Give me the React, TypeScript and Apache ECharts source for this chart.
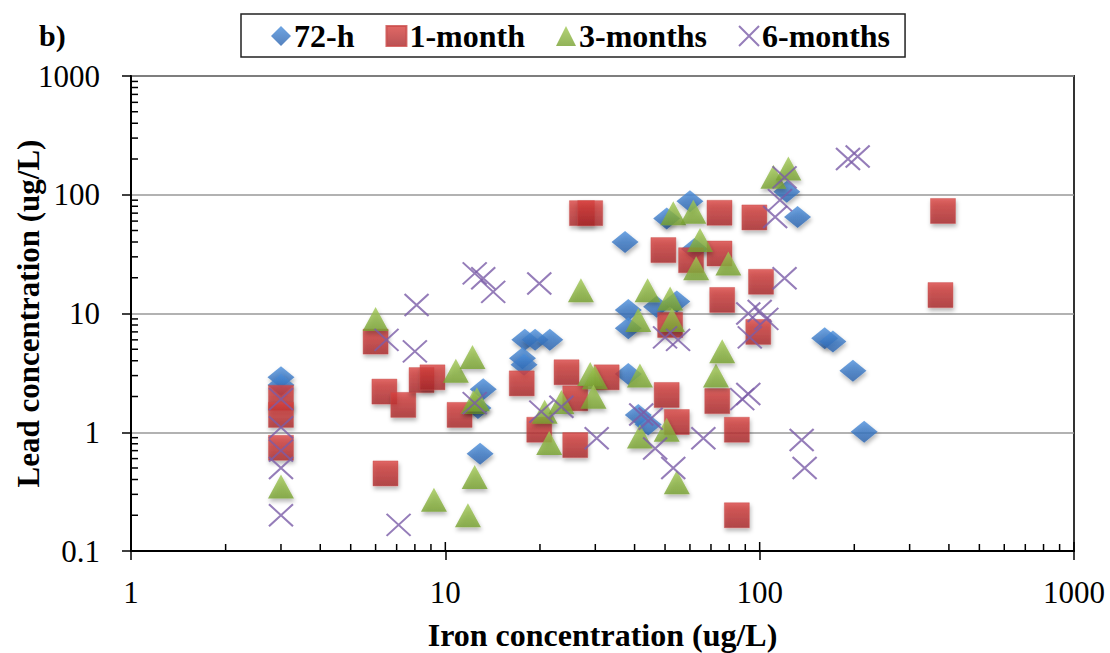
import React, { useEffect, useRef } from "react";
import * as echarts from "echarts";

const FONT = '"Liberation Serif", "Times New Roman", serif';

const seriesNames = ["72-h", "1-month", "3-months", "6-months"];

const ironH72 = [3, 3, 12.9, 13.2, 12.7, 17.9, 19.3, 21.5, 17.6, 17.8, 37.3, 38.2, 38.2, 38.2, 41.1, 44.2, 47, 54.5, 50.6, 60, 62, 122, 132, 161, 171, 198, 215];
const leadH72 = [2.9, 2.5, 0.66, 2.3, 1.6, 6, 6, 6, 4.2, 3.7, 40, 10.7, 7.5, 3.1, 1.4, 1.16, 11.4, 12.6, 63, 88, 35, 106, 65, 6.2, 5.8, 3.3, 1.01];

const iron1m = [3, 3, 3, 6, 6.4, 7.35, 8.4, 9.1, 6.45, 11.1, 17.5, 19.9, 24.3, 25.9, 25.9, 27.2, 28.9, 32.6, 49.4, 51.9, 50.6, 54.5, 60.5, 74.5, 74.5, 76, 73.3, 84.6, 84.6, 96.2, 101, 99, 383, 376];
const lead1m = [1.95, 1.4, 0.74, 5.8, 2.2, 1.7, 2.75, 2.9, 0.45, 1.4, 2.58, 1.05, 3.2, 1.93, 0.78, 70, 70, 2.9, 34.2, 8.0, 2.06, 1.22, 28.1, 70.5, 32, 13, 1.83, 1.05, 0.2, 64.4, 18.5, 7.0, 73, 14.3];

const iron3m = [3, 6, 9.2, 11.8, 12.4, 10.8, 12.2, 12.3, 12.6, 21.4, 20.7, 23.4, 27, 28.9, 29.9, 29.6, 41.1, 41.6, 41.6, 44, 51.9, 52.6, 50.6, 54.5, 53.1, 61.5, 64.6, 62.8, 79.5, 72.6, 76, 110.6, 123.4];
const lead3m = [0.35, 9, 0.27, 0.2, 0.42, 3.3, 4.3, 1.8, 1.9, 0.81, 1.49, 1.8, 15.7, 3.1, 2.9, 1.99, 8.8, 3.0, 0.92, 15.7, 13.4, 8.8, 1.05, 0.38, 70, 72, 41.5, 24, 26.4, 3.0, 4.8, 141.6, 166];

const iron6m = [3, 3, 3, 3, 3, 6.5, 8.1, 8.0, 7.1, 12.4, 12.4, 13.2, 14.2, 19.9, 20.2, 23.4, 30.3, 42, 45, 46.5, 53.1, 50, 55, 66.2, 88, 92, 92, 100, 105, 93, 112, 116, 120, 120, 136, 139, 191, 205];
const lead6m = [1.9, 1.1, 0.7, 0.5, 0.2, 6, 11.8, 4.8, 0.166, 1.76, 21.8, 19.8, 15.2, 17.9, 1.49, 1.64, 0.89, 1.41, 1.3, 0.73, 0.5, 6.3, 6, 0.89, 1.9, 2.1, 10, 10.5, 9, 6.3, 65, 90, 140, 19.8, 0.86, 0.5, 200, 210];

// axis structure
const tickMantissas = [2, 3, 4, 5, 6, 7, 8, 9];
const xDecades = [1, 10, 100];
const yDecades = [0.1, 1, 10, 100];
const xMajors = [1, 10, 100, 1000];

const zip = (xs: number[], ys: number[]) => xs.map((x, i) => [x, ys[i]]);

const grad = (top: string, bottom: string) => ({
  type: "linear",
  x: 0,
  y: 0,
  x2: 0,
  y2: 1,
  colorStops: [
    { offset: 0, color: top },
    { offset: 1, color: bottom },
  ],
});

const shadow = {
  shadowBlur: 4,
  shadowColor: "rgba(0,0,0,0.35)",
  shadowOffsetX: 1,
  shadowOffsetY: 3,
};

const CROSS = "path://M0,0L10,10M10,0L0,10";

export default function App() {
  const ref = useRef<HTMLDivElement>(null);

  useEffect(() => {
    if (!ref.current) return;
    document.body.style.margin = "0";
    const chart = echarts.init(ref.current, undefined, { renderer: "svg" });

    const xMinor: number[][] = [];
    xDecades.forEach((d) => tickMantissas.forEach((m) => xMinor.push([m * d, 0.1])));
    const yMinor: number[][] = [];
    yDecades.forEach((d) => tickMantissas.forEach((m) => yMinor.push([1, +(m * d).toPrecision(3)])));
    const xMajorIn = xMajors.map((v) => [v, 0.1]);

    const tickStyle = { stroke: "#000", lineWidth: 1.5 };

    const option: any = {
      animation: false,
      backgroundColor: "#fff",
      title: {
        text: "b)",
        left: 34,
        top: 15,
        textStyle: { fontFamily: FONT, fontWeight: "bold", fontSize: 30, color: "#000" },
      },
      legend: {
        left: 241,
        top: 14,
        data: [
          { name: "72-h", icon: "diamond" },
          { name: "1-month", icon: "rect" },
          { name: "3-months", icon: "triangle" },
          { name: "6-months", icon: CROSS },
        ],
        itemWidth: 20,
        itemHeight: 20,
        itemGap: 31,
        padding: [6, 15, 5, 30],
        borderColor: "#222",
        borderWidth: 1.5,
        textStyle: { fontFamily: FONT, fontWeight: "bold", fontSize: 32, color: "#000", padding: [0, 0, 0, -2] },
      },
      grid: {
        left: 131,
        right: 36,
        top: 76,
        bottom: 102,
        show: true,
        borderColor: "#333",
        borderWidth: 2,
        containLabel: false,
        outerBoundsMode: "none",
      },
      xAxis: {
        type: "log",
        logBase: 10,
        min: 1,
        max: 1000,
        name: "Iron concentration (ug/L)",
        nameLocation: "middle",
        nameGap: 68,
        nameMoveOverlap: false,
        nameTextStyle: { fontFamily: FONT, fontWeight: "bold", fontSize: 32, color: "#000" },
        axisLine: { lineStyle: { color: "#000", width: 2 } },
        axisTick: { inside: false, length: 9, lineStyle: { color: "#000", width: 1.5 } },
        axisLabel: {
          margin: 26,
          fontFamily: FONT,
          fontSize: 31,
          color: "#000",
          formatter: (v: number) => String(v),
        },
        splitLine: { show: false },
      },
      yAxis: {
        type: "log",
        logBase: 10,
        min: 0.1,
        max: 1000,
        name: "Lead concentration (ug/L)",
        nameLocation: "middle",
        nameGap: 87,
        nameMoveOverlap: false,
        nameTextStyle: { fontFamily: FONT, fontWeight: "bold", fontSize: 31, color: "#000" },
        axisLine: { lineStyle: { color: "#000", width: 2 } },
        axisTick: { inside: false, length: 9, lineStyle: { color: "#000", width: 1.5 } },
        axisLabel: {
          margin: 31,
          fontFamily: FONT,
          fontSize: 31,
          color: "#000",
          formatter: (v: number) => (v < 1 ? v.toFixed(1) : String(Math.round(v))),
        },
        splitLine: { show: true, lineStyle: { color: "#999", width: 1.5 } },
      },
      series: [
        {
          name: "72-h",
          type: "scatter",
          symbol: "diamond",
          symbolSize: [27, 22],
          data: zip(ironH72, leadH72),
          itemStyle: { color: grad("#4b8fdc", "#2a62ad"), ...shadow },
          z: 2,
        },
        {
          name: "1-month",
          type: "scatter",
          symbol: "rect",
          symbolSize: [25, 25],
          data: zip(iron1m, lead1m),
          itemStyle: { color: grad("#d9423f", "#a8272a"), borderColor: "#c94a48", borderWidth: 0.5, ...shadow },
          z: 3,
        },
        {
          name: "3-months",
          type: "scatter",
          symbol: "triangle",
          symbolSize: [26, 24],
          data: zip(iron3m, lead3m),
          itemStyle: { color: grad("#a2c955", "#76a02f"), ...shadow },
          z: 4,
        },
        {
          name: "6-months",
          type: "scatter",
          symbol: CROSS,
          symbolSize: [24, 22],
          data: zip(iron6m, lead6m),
          itemStyle: { color: "rgba(0,0,0,0)", borderColor: "#7a5ca8", borderWidth: 2 },
          z: 5,
        },
        {
          type: "custom",
          silent: true,
          z: 10,
          data: xMinor,
          renderItem: (params: any, api: any) => {
            const p = api.coord([api.value(0), api.value(1)]);
            return { type: "line", shape: { x1: p[0], y1: p[1], x2: p[0], y2: p[1] - 7 }, style: tickStyle };
          },
        },
        {
          type: "custom",
          silent: true,
          z: 10,
          data: xMajorIn,
          renderItem: (params: any, api: any) => {
            const p = api.coord([api.value(0), api.value(1)]);
            return { type: "line", shape: { x1: p[0], y1: p[1], x2: p[0], y2: p[1] - 9 }, style: tickStyle };
          },
        },
        {
          type: "custom",
          silent: true,
          z: 10,
          data: yMinor,
          renderItem: (params: any, api: any) => {
            const p = api.coord([api.value(0), api.value(1)]);
            return { type: "line", shape: { x1: p[0], y1: p[1], x2: p[0] + 7, y2: p[1] }, style: tickStyle };
          },
        },
      ],
    };

    chart.setOption(option);
    return () => chart.dispose();
  }, []);

  return <div ref={ref} style={{ width: 1110, height: 653 }} />;
}
